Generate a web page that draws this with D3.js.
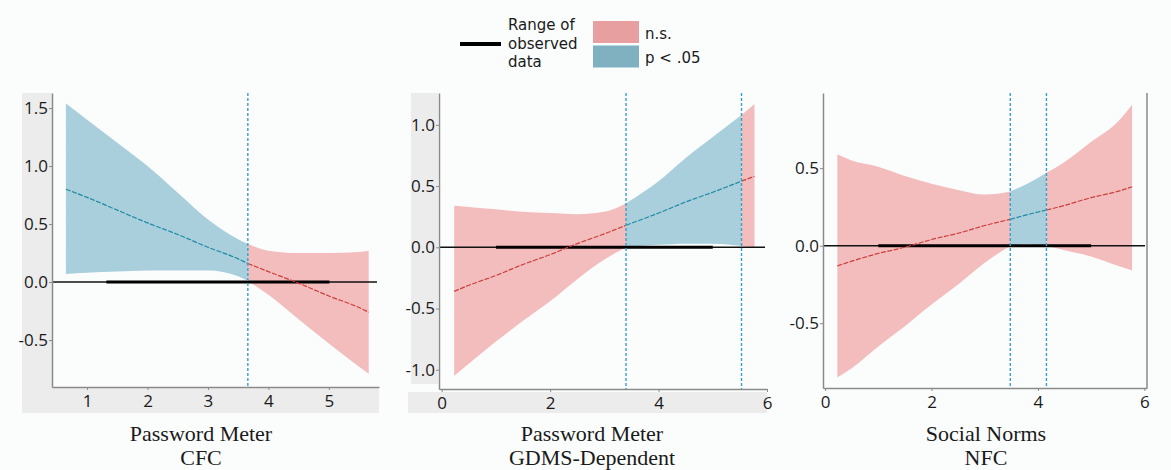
<html>
<head>
<meta charset="utf-8">
<script src="https://d3js.org/d3.v7.min.js"></script>
<style>
  body { margin: 0; background: #fbfdfd; }
  svg text { fill: #1a1a1a; }
</style>
</head>
<body>
<script>
// Panel 1 - Password Meter x CFC
const cfcX     = [0.65, 1.0, 1.5, 2.0, 2.5, 3.0, 3.5, 3.66, 4.0, 4.5, 5.0, 5.5, 5.66];
const cfcEst   = [0.80, 0.73, 0.62, 0.51, 0.41, 0.30, 0.20, 0.16, 0.09, -0.01, -0.12, -0.22, -0.26];
const cfcUpper = [1.54, 1.40, 1.20, 1.00, 0.77, 0.54, 0.37, 0.33, 0.27, 0.25, 0.25, 0.26, 0.27];
const cfcLower = [0.07, 0.08, 0.09, 0.10, 0.10, 0.10, 0.05, 0.01, -0.11, -0.32, -0.53, -0.73, -0.79];
const cfcJN    = [3.66];
const cfcSig   = [true, false];
const cfcRange = [1.32, 5.01];

// Panel 2 - Password Meter x GDMS-Dependent
const gdmsX     = [0.23, 0.5, 1.0, 1.5, 2.0, 2.5, 3.0, 3.40, 4.0, 4.5, 5.0, 5.53, 5.77];
const gdmsEst   = [-0.36, -0.31, -0.23, -0.14, -0.06, 0.03, 0.11, 0.18, 0.28, 0.37, 0.45, 0.54, 0.58];
const gdmsUpper = [0.34, 0.33, 0.31, 0.29, 0.28, 0.27, 0.29, 0.36, 0.54, 0.73, 0.90, 1.08, 1.17];
const gdmsLower = [-1.05, -0.95, -0.77, -0.60, -0.44, -0.26, -0.10, 0.00, 0.02, 0.03, 0.03, 0.01, 0.00];
const gdmsJN    = [3.40, 5.53];
const gdmsSig   = [false, true, false];
const gdmsRange = [1.0, 5.0];

// Panel 3 - Social Norms x NFC
const nfcX     = [0.23, 0.5, 1.0, 1.5, 2.0, 2.5, 3.0, 3.48, 3.8, 4.16, 4.5, 5.0, 5.5, 5.77];
const nfcEst   = [-0.13, -0.10, -0.05, -0.01, 0.04, 0.08, 0.13, 0.17, 0.20, 0.23, 0.26, 0.31, 0.35, 0.38];
const nfcUpper = [0.59, 0.55, 0.51, 0.45, 0.40, 0.36, 0.33, 0.35, 0.40, 0.47, 0.54, 0.67, 0.80, 0.91];
const nfcLower = [-0.85, -0.79, -0.65, -0.52, -0.38, -0.25, -0.11, 0.00, 0.01, 0.00, -0.03, -0.07, -0.13, -0.16];
const nfcJN    = [3.48, 4.16];
const nfcSig   = [false, true, false];
const nfcRange = [1.0, 5.0];

const xTicks1 = [1, 2, 3, 4, 5];
const xTicks2 = [0, 2, 4, 6];
const yTicks1 = [-0.5, 0, 0.5, 1.0, 1.5];
const yTicks2 = [-1.0, -0.5, 0, 0.5, 1.0];
const yTicks3 = [-0.5, 0, 0.5];

const legendLabels = ["n.s.", "p < .05"];
const rangeLabel = ["Range of", "observed", "data"];

const w = 1171;
const h = 470;

const nsFill = "#f4bdbd";
const sigFill = "#a9cfdc";
const nsLine = "#c9403c";
const sigLine = "#1d8aa4";
const jnColor = "#3a9fc6";

const panels = [
  { xs: cfcX, est: cfcEst, lo: cfcLower, hi: cfcUpper, jn: cfcJN, sig: cfcSig, obs: cfcRange,
    xDomain: [0.42, 5.83], yDomain: [-0.905, 1.63], xTicks: xTicks1, yTicks: yTicks1,
    left: 52, right: 379, top: 93, bottom: 387, grey: [[22, 93, 30, 294], [22, 387, 357, 26]],
    title: ["Password Meter", "CFC"], cx: 201 },
  { xs: gdmsX, est: gdmsEst, lo: gdmsLower, hi: gdmsUpper, jn: gdmsJN, sig: gdmsSig, obs: gdmsRange,
    xDomain: [-0.05, 6.0], yDomain: [-1.157, 1.26], xTicks: xTicks2, yTicks: yTicks2,
    left: 439, right: 767, top: 93, bottom: 389, grey: [[411, 93, 27, 291], [408, 392, 359, 21]],
    title: ["Password Meter", "GDMS-Dependent"], cx: 592 },
  { xs: nfcX, est: nfcEst, lo: nfcLower, hi: nfcUpper, jn: nfcJN, sig: nfcSig, obs: nfcRange,
    xDomain: [-0.04, 6.05], yDomain: [-0.918, 0.985], xTicks: xTicks2, yTicks: yTicks3,
    left: 823, right: 1147, top: 93, bottom: 388, grey: [], border: true,
    title: ["Social Norms", "NFC"], cx: 986 }
];

const svg = d3.select("body")
              .append("svg")
              .attr("width", w)
              .attr("height", h);

panels.forEach(drawPanel);

function drawPanel(p) {
  const x = d3.scaleLinear().domain(p.xDomain).range([p.left, p.right]);
  const y = d3.scaleLinear().domain(p.yDomain).range([p.bottom, p.top]);
  const pts = p.xs.map((v, i) => ({ x: v, est: p.est[i], lo: p.lo[i], hi: p.hi[i] }));
  const g = svg.append("g");

  g.selectAll("rect.grey")
   .data(p.grey)
   .enter()
   .append("rect")
   .attr("x", (d) => d[0])
   .attr("y", (d) => d[1])
   .attr("width", (d) => d[2])
   .attr("height", (d) => d[3])
   .attr("fill", "#ececec");

  const area = d3.area()
                 .x((d) => x(d.x))
                 .y0((d) => y(d.lo))
                 .y1((d) => y(d.hi))
                 .curve(d3.curveMonotoneX);
  const line = d3.line()
                 .x((d) => x(d.x))
                 .y((d) => y(d.est))
                 .curve(d3.curveMonotoneX);

  // split the band at the Johnson-Neyman points
  const cuts = [p.xs[0]].concat(p.jn, [p.xs[p.xs.length - 1]]);
  const segs = [];
  for (let i = 0; i < cuts.length - 1; i++) {
    segs.push({ pts: pts.filter((d) => d.x >= cuts[i] && d.x <= cuts[i + 1]), sig: p.sig[i] });
  }

  g.selectAll("path.band")
   .data(segs)
   .enter()
   .append("path")
   .attr("d", (d) => area(d.pts))
   .attr("fill", (d) => d.sig ? sigFill : nsFill);

  // zero line
  g.append("line")
   .attr("x1", x(p.xDomain[0])).attr("x2", x(p.xDomain[1]) - 2)
   .attr("y1", y(0)).attr("y2", y(0))
   .attr("stroke", "#111").attr("stroke-width", 1.4);

  // range of observed data
  g.append("line")
   .attr("x1", x(p.obs[0])).attr("x2", x(p.obs[1]))
   .attr("y1", y(0)).attr("y2", y(0))
   .attr("stroke", "#000").attr("stroke-width", 3);

  g.selectAll("path.est")
   .data(segs)
   .enter()
   .append("path")
   .attr("d", (d) => line(d.pts))
   .attr("fill", "none")
   .attr("stroke", (d) => d.sig ? sigLine : nsLine)
   .attr("stroke-width", 1.2)
   .attr("stroke-dasharray", "5,1.5");

  g.selectAll("line.jn")
   .data(p.jn)
   .enter()
   .append("line")
   .attr("x1", (d) => x(d)).attr("x2", (d) => x(d))
   .attr("y1", p.top).attr("y2", p.bottom)
   .attr("stroke", jnColor)
   .attr("stroke-width", 1.4)
   .attr("stroke-dasharray", "3,2");

  const yAxis = d3.axisLeft(y).tickValues(p.yTicks).tickSize(3).tickSizeOuter(0)
                  .tickPadding(1).tickFormat((d) => d.toFixed(1));
  const xAxis = d3.axisBottom(x).tickValues(p.xTicks).tickSize(3).tickSizeOuter(0)
                  .tickPadding(5).tickFormat(d3.format("d"));

  const ya = g.append("g")
              .attr("transform", "translate(" + p.left + ",0)")
              .call(yAxis);
  const xa = g.append("g")
              .attr("transform", "translate(0," + p.bottom + ")")
              .call(xAxis);

  [ya, xa].forEach((a) => {
    a.select(".domain").attr("stroke", "#8a8a8a").attr("stroke-width", 1.5);
    a.selectAll(".tick line").attr("stroke", "#8a8a8a");
    a.selectAll(".tick text")
     .attr("font-family", "Open Sans")
     .attr("font-size", 17)
     .attr("fill", "#111");
  });

  if (p.border) {
    g.append("line")
     .attr("x1", p.right).attr("x2", p.right)
     .attr("y1", p.top).attr("y2", p.bottom)
     .attr("stroke", "#8a8a8a").attr("stroke-width", 1.5);
  }

  g.selectAll("text.title")
   .data(p.title)
   .enter()
   .append("text")
   .attr("x", p.cx)
   .attr("y", (d, i) => 441 + i * 24)
   .attr("text-anchor", "middle")
   .attr("font-family", "Liberation Serif")
   .attr("font-size", 22)
   .attr("fill", "#111")
   .text((d) => d);
}

// legend
const legend = svg.append("g").attr("font-family", "DejaVu Sans").attr("font-size", 15);

legend.append("line")
      .attr("x1", 460).attr("x2", 501)
      .attr("y1", 44).attr("y2", 44)
      .attr("stroke", "#000").attr("stroke-width", 4);

legend.selectAll("text.range")
      .data(rangeLabel)
      .enter()
      .append("text")
      .attr("x", 508)
      .attr("y", (d, i) => 30 + i * 18.5)
      .attr("fill", "#111")
      .text((d) => d);

legend.selectAll("rect.key")
      .data(legendLabels)
      .enter()
      .append("rect")
      .attr("x", 593)
      .attr("y", (d, i) => 21 + i * 24.5)
      .attr("width", 46)
      .attr("height", 22)
      .attr("fill", (d, i) => i ? "#7fb1c1" : "#e89f9f");

legend.selectAll("text.key")
      .data(legendLabels)
      .enter()
      .append("text")
      .attr("x", 645)
      .attr("y", (d, i) => 38.5 + i * 24.5)
      .attr("fill", "#111")
      .text((d) => d);
</script>
</body>
</html>
